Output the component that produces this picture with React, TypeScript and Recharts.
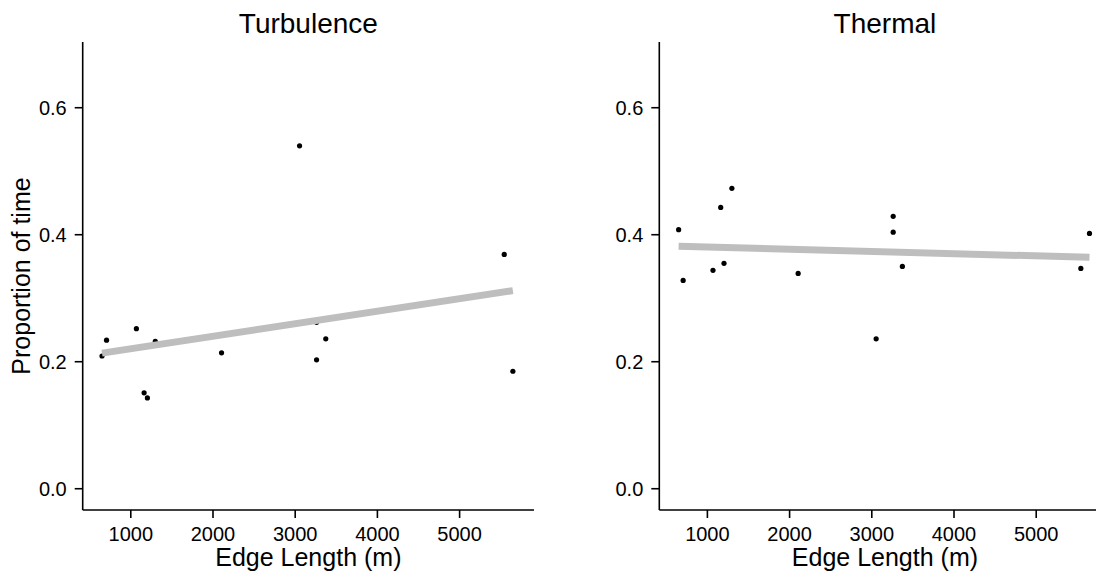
import { Scatter, ScatterChart, XAxis, YAxis } from 'recharts';

// edge length (m) of each site, shared by both panels
const edgeLength = [650, 705, 1068, 1162, 1202, 1298, 2104, 3053, 3260, 3260, 3372, 5543, 5648];
// proportion of time per site
const turbulence = [0.209, 0.234, 0.252, 0.151, 0.143, 0.232, 0.214, 0.54, 0.203, 0.262, 0.236, 0.369, 0.185];
const thermal = [0.408, 0.328, 0.344, 0.443, 0.355, 0.473, 0.339, 0.236, 0.429, 0.404, 0.35, 0.347, 0.402];
// fitted line values at the smallest and largest edge length
const turbulenceFit = [0.2136, 0.312];
const thermalFit = [0.382, 0.3644];

const xTicks = [1000, 2000, 3000, 4000, 5000];
const yTicks = [0, 0.2, 0.4, 0.6];

const FONT = '"Liberation Sans", Arial, Helvetica, sans-serif';
const axisStroke = { stroke: '#000', strokeWidth: 1.6 };

interface PanelProps {
  title: string;
  values: number[];
  fit: number[];
  yAxisWidth: number;
  yTitle?: string;
}

const Dot = (props: any) => <circle cx={props.cx} cy={props.cy} r={2.6} fill="#000" />;

const Panel = ({ title, values, fit, yAxisWidth, yTitle }: PanelProps) => {
  const points = edgeLength.map((x, i) => ({ x, y: values[i] }));
  const fitLine = [
    { x: edgeLength[0], y: fit[0] },
    { x: edgeLength[edgeLength.length - 1], y: fit[1] },
  ];
  const plotLeft = yAxisWidth;
  const plotWidth = 451.3;
  const centerX = plotLeft + plotWidth / 2;

  return (
    <ScatterChart
      width={560}
      height={567}
      margin={{ top: 34, right: 560 - yAxisWidth - plotWidth, bottom: 5, left: 0 }}
      style={{ fontFamily: FONT }}
    >
      <XAxis
        type="number"
        dataKey="x"
        domain={[415, 5905]}
        ticks={xTicks}
        height={60}
        tickSize={8}
        tickMargin={9}
        axisLine={axisStroke}
        tickLine={axisStroke}
        tick={{ fill: '#000', fontSize: 20, fontFamily: FONT }}
      />
      <YAxis
        type="number"
        dataKey="y"
        domain={[-0.0335, 0.7035]}
        ticks={yTicks}
        width={yAxisWidth}
        tickSize={8}
        tickMargin={8}
        tickFormatter={(v: number) => v.toFixed(1)}
        axisLine={axisStroke}
        tickLine={axisStroke}
        tick={{ fill: '#000', fontSize: 20, fontFamily: FONT }}
      />
      <Scatter data={points} shape={Dot} isAnimationActive={false} />
      <Scatter
        data={fitLine}
        line={{ stroke: '#BEBEBE', strokeWidth: 7 }}
        lineType="joint"
        shape={() => <g />}
        isAnimationActive={false}
      />
      <text x={centerX} y={25} textAnchor="middle" fontSize={28} fontFamily={FONT} fill="#000">
        {title}
      </text>
      <text x={centerX} y={557.7} textAnchor="middle" fontSize={25} fontFamily={FONT} fill="#000">
        Edge Length (m)
      </text>
      {yTitle && (
        <text
          x={13}
          y={268}
          textAnchor="middle"
          dominantBaseline="central"
          transform="rotate(-90 13 268)"
          fontSize={25}
          fontFamily={FONT}
          fill="#000"
        >
          {yTitle}
        </text>
      )}
    </ScatterChart>
  );
};

export default function App() {
  return (
    <div style={{ position: 'relative', width: 1096, height: 567, overflow: 'hidden', background: '#fff' }}>
      <div style={{ position: 'absolute', left: 0, top: 0 }}>
        <Panel title="Turbulence" values={turbulence} fit={turbulenceFit} yAxisWidth={74.7} yTitle="Proportion of time" />
      </div>
      <div style={{ position: 'absolute', left: 578, top: 0 }}>
        <Panel title="Thermal" values={thermal} fit={thermalFit} yAxisWidth={73.3} />
      </div>
    </div>
  );
}
